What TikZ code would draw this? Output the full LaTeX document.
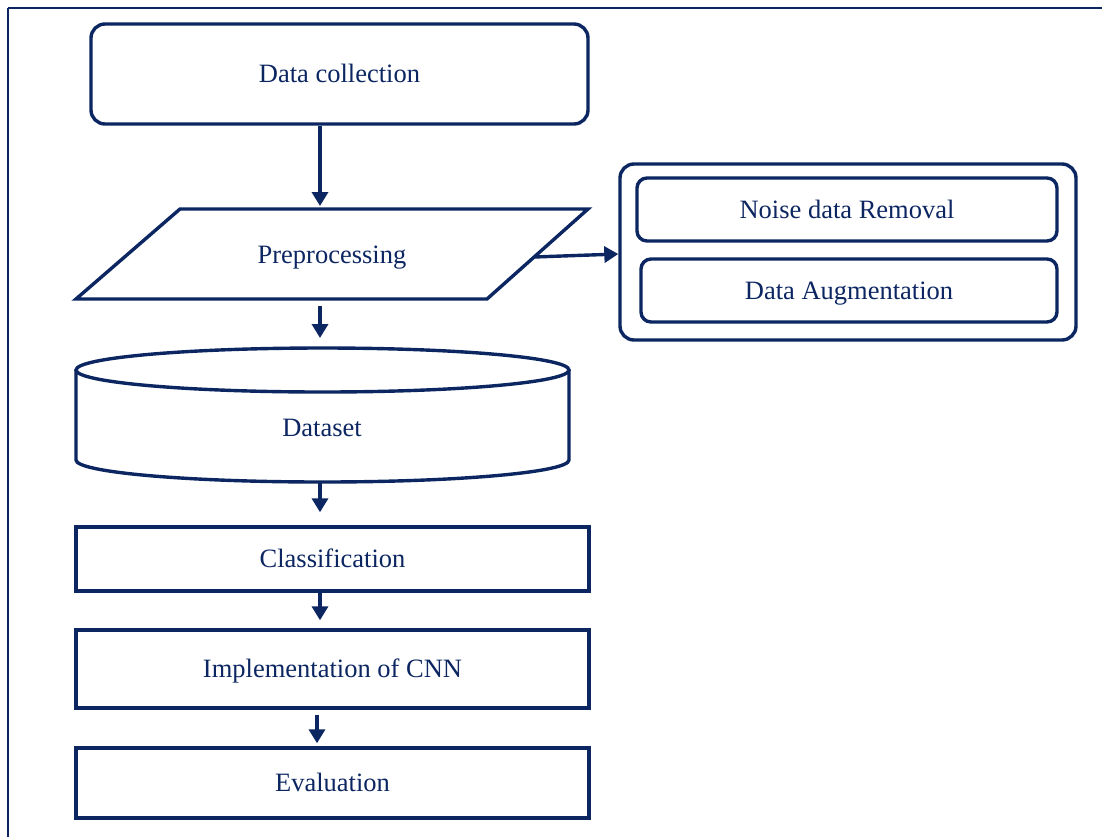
\documentclass[tikz,border=0pt]{standalone}
\usepackage{fontspec}
\setmainfont{Liberation Serif}
\usetikzlibrary{arrows.meta}
\definecolor{navy}{RGB}{12,38,98}
\begin{document}
\begin{tikzpicture}[x=1pt,y=-1pt,
  every node/.style={text=navy,font=\fontsize{26.5}{30}\selectfont,text height=17.5pt,text depth=0pt},
  box/.style={draw=navy,line width=3.4pt,fill=white,inner sep=0pt},
  rbox/.style={box,rounded corners=14pt},
  conn/.style={draw=navy,line width=3.4pt,-{Triangle[length=14pt,width=16pt]}},
  lbl/.style={inner sep=0pt}]
\useasboundingbox (0,0) rectangle (1102,836);
% outer frame
\draw[navy,line width=1.6pt] (8,8) -- (8,845) (8,8) -- (1110,8);
% data collection
\node[rbox,minimum width=497pt,minimum height=100pt] (dc) at (339.5,74) {Data collection};
% preprocessing parallelogram
\coordinate (p1) at (180,209);
\coordinate (p2) at (588,209);
\coordinate (p3) at (487,299);
\coordinate (p4) at (76,299);
\draw[navy,line width=3.4pt,line join=miter] (p1) -- (p2) -- (p3) -- (p4) -- cycle;
\node[lbl] (pre) at (332,255) {Preprocessing};
\coordinate (preR) at (534,257);
\coordinate (preTop) at (320,209);
\coordinate (preBot) at (320,306);
% right group
\node[rbox,minimum width=456pt,minimum height=176pt] (grp) at (848,252) {};
\node[rbox,minimum width=420pt,minimum height=63pt,rounded corners=10pt] (noise) at (847,209.5) {Noise data Removal};
\node[rbox,minimum width=416pt,minimum height=63pt,rounded corners=10pt] (aug) at (849,290.5) {Data Augmentation};
% dataset cylinder
\draw[navy,line width=3.4pt] (76,370) -- (76,460) arc[start angle=180,end angle=360,x radius=246.5pt,y radius=22pt] -- (569,370);
\draw[navy,line width=3.4pt] (322.5,370) ellipse[x radius=246.5pt,y radius=22pt];
\node[lbl] (ds) at (322,428) {Dataset};
\coordinate (dsTop) at (320,348);
\coordinate (dsBot) at (320,482);
% bottom boxes
\node[box,minimum width=513pt,minimum height=64pt] (cls) at (332.5,559) {Classification};
\node[box,minimum width=513pt,minimum height=78pt] (cnn) at (332.5,669) {Implementation of CNN};
\node[box,minimum width=513pt,minimum height=70pt] (ev) at (332.5,783) {Evaluation};
% connectors
\draw[conn] (dc.south -| preTop) -- ([yshift=3pt]preTop);
\draw[conn] (preR) -- (grp.west |- 0,254);
\draw[conn] (preBot) -- ([yshift=10pt]dsTop);
\draw[conn] (dsBot) -- ([yshift=13pt]cls.north -| dsBot);
\draw[conn] (cls.south -| dsBot) -- ([yshift=8pt]cnn.north -| dsBot);
\draw[conn] ([xshift=-3pt,yshift=-5pt]cnn.south -| dsBot) -- ([xshift=-3pt,yshift=3pt]ev.north -| dsBot);
\end{tikzpicture}
\end{document}
